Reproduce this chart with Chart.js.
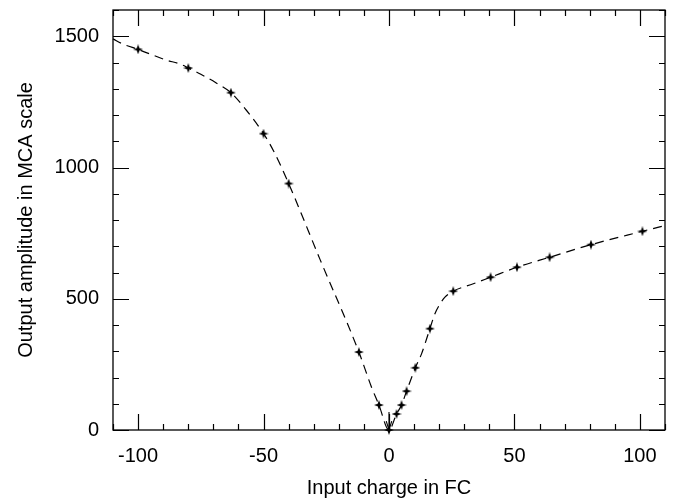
<!DOCTYPE html>
<html>
<head>
<meta charset="utf-8">
<script src="https://cdn.jsdelivr.net/npm/chart.js@4/dist/chart.umd.min.js"></script>
<style>
html,body{margin:0;padding:0;background:#fff;}
#wrap{width:683px;height:500px;position:relative;}
</style>
</head>
<body>
<div id="wrap"><canvas id="c" width="683" height="500"></canvas></div>
<script>
// Measured points (input charge in fC, output amplitude in MCA channels)
const pointX = [-100, -80, -63, -50, -40, -12, -4, 0, 3, 5, 7, 10.5, 16.3, 25.6, 40.5, 51, 64, 80.5, 101];
const pointY = [1450, 1379, 1285, 1129, 939, 297, 95, 0, 61, 95, 148, 237, 386, 529, 582, 620, 658, 706, 757];

// Dashed fit curve
const curveX = [-110, -106, -100, -89, -83, -80, -75, -69, -63, -57, -50, -46, -40, -27.5, -12, -7, -4, 0, 3, 5, 7, 10.5, 13, 16.3, 18.3, 20, 22.3, 25.6, 33.6, 40.5, 51, 64, 80.5, 101, 110];
const curveY = [1490, 1470, 1450, 1410, 1393, 1379, 1355, 1323, 1285, 1220, 1129, 1063, 939, 650, 297, 164, 95, 0, 61, 95, 148, 237, 291, 386, 443, 475, 506, 529, 557, 582, 620, 658, 706, 757, 779];

// Upper-limit arrow at zero charge
const arrowStemX = [0, 0];
const arrowStemY = [69, 0];
const arrowHeadX = [-1.1, 0, 1.1];
const arrowHeadY = [34, 0, 34];

// Axis ticks
const xTickValues = [-100, -50, 0, 50, 100];
const yTickValues = [0, 500, 1000, 1500];

const toXY = (xs, ys) => xs.map((x, i) => ({x: x, y: ys[i]}));

// Four-pointed star marker
function starMarker(size) {
  const c = document.createElement('canvas');
  c.width = size; c.height = size;
  const g = c.getContext('2d');
  const m = size / 2, a = size * 0.13;
  g.fillStyle = '#000';
  g.beginPath();
  g.moveTo(m, 0);
  g.lineTo(m + a, m - a);
  g.lineTo(size, m);
  g.lineTo(m + a, m + a);
  g.lineTo(m, size);
  g.lineTo(m - a, m + a);
  g.lineTo(0, m);
  g.lineTo(m - a, m - a);
  g.closePath();
  g.fill();
  return c;
}
const marker = starMarker(10);

const FONT = 'Liberation Sans, Arial, Helvetica, sans-serif';

const frameTicks = {
  id: 'frameTicks',
  afterDatasetsDraw(chart) {
    const {ctx, chartArea: a, scales: {x, y}} = chart;
    ctx.save();
    ctx.strokeStyle = '#000';
    ctx.lineWidth = 1.3;
    ctx.setLineDash([]);
    ctx.strokeRect(a.left, a.top, a.right - a.left, a.bottom - a.top);
    ctx.lineWidth = 1.2;
    ctx.beginPath();
    for (let v = Math.ceil(x.min / 10) * 10; v <= x.max; v += 10) {
      const px = Math.round(x.getPixelForValue(v)) + 0.5;
      const len = (v % 50 === 0) ? 16 : 6;
      ctx.moveTo(px, a.bottom); ctx.lineTo(px, a.bottom - len);
      ctx.moveTo(px, a.top); ctx.lineTo(px, a.top + len);
    }
    for (let v = Math.ceil(y.min / 100) * 100; v <= y.max; v += 100) {
      const py = Math.round(y.getPixelForValue(v)) + 0.5;
      const len = (v % 500 === 0) ? 16 : 6;
      ctx.moveTo(a.left, py); ctx.lineTo(a.left + len, py);
      ctx.moveTo(a.right, py); ctx.lineTo(a.right - len, py);
    }
    ctx.stroke();
    ctx.restore();
  }
};

new Chart(document.getElementById('c'), {
  type: 'scatter',
  data: {
    datasets: [
      {
        data: toXY(curveX, curveY),
        showLine: true,
        borderColor: '#000',
        borderWidth: 1.2,
        borderDash: [9, 6],
        cubicInterpolationMode: 'monotone',
        pointRadius: 0,
        fill: false,
        clip: false
      },
      {
        data: toXY(arrowStemX, arrowStemY),
        showLine: true,
        borderColor: '#000',
        borderWidth: 1.1,
        pointRadius: 0,
        clip: false
      },
      {
        data: toXY(arrowHeadX, arrowHeadY),
        showLine: true,
        borderColor: '#000',
        borderWidth: 1.1,
        pointRadius: 0,
        clip: false
      },
      {
        data: toXY(pointX, pointY),
        showLine: false,
        pointStyle: marker,
        pointRadius: 5,
        clip: false
      }
    ]
  },
  options: {
    responsive: false,
    animation: false,
    events: [],
    layout: {padding: {left: 0, right: 18, top: 10, bottom: 0}},
    plugins: {legend: {display: false}, tooltip: {enabled: false}},
    scales: {
      x: {
        type: 'linear',
        min: -110, max: 110,
        afterFit(s) { s.height = 70; s.paddingLeft = 0; s.paddingRight = 0; },
        afterBuildTicks(s) { s.ticks = xTickValues.map(v => ({value: v})); },
        grid: {display: false, drawTicks: false},
        border: {display: false},
        ticks: {color: '#000', font: {family: FONT, size: 20}, padding: 14, maxRotation: 0, callback: v => String(v)},
        title: {display: true, text: 'Input charge in FC', color: '#000', font: {family: FONT, size: 20}, padding: {top: 0, bottom: 0}}
      },
      y: {
        type: 'linear',
        min: 0, max: 1600,
        afterFit(s) { s.width = 113; s.paddingTop = 0; s.paddingBottom = 0; },
        afterBuildTicks(s) { s.ticks = yTickValues.map(v => ({value: v})); },
        grid: {display: false, drawTicks: false},
        border: {display: false},
        ticks: {color: '#000', font: {family: FONT, size: 20}, padding: 14, callback: v => String(v)},
        title: {display: true, text: 'Output amplitude in MCA scale', color: '#000', font: {family: FONT, size: 20}, padding: {top: 14, bottom: 0}}
      }
    }
  },
  plugins: [frameTicks]
});
</script>
</body>
</html>
